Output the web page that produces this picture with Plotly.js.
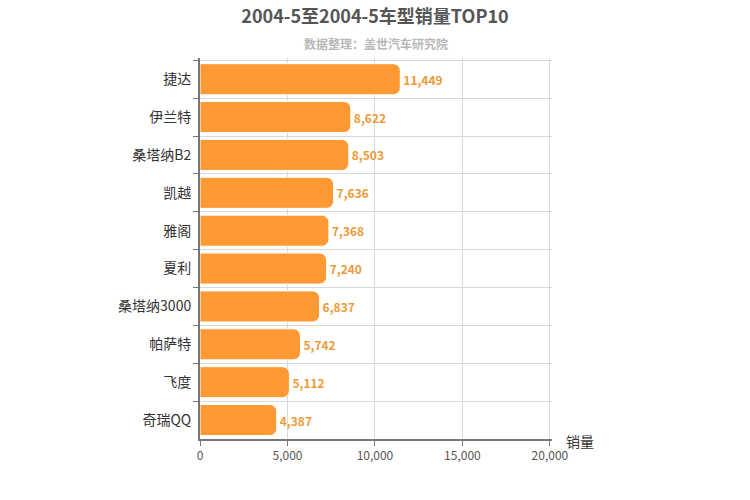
<!DOCTYPE html>
<html><head><meta charset="utf-8">
<script src="https://cdn.plot.ly/plotly-3.0.1.min.js"></script>
<style>html,body{margin:0;padding:0;background:#fff}#c{width:750px;height:500px}</style>
</head><body><div id="c"></div>
<script>
var categories = ["捷达","伊兰特","桑塔纳B2","凯越","雅阁","夏利","桑塔纳3000","帕萨特","飞度","奇瑞QQ"];
var sales = [11449,8622,8503,7636,7368,7240,6837,5742,5112,4387];
var xTicks = [0,5000,10000,15000,20000];
var xTickLabels = ["0","5,000","10,000","15,000","20,000"];
var F = '"Microsoft YaHei","Noto Sans CJK SC",sans-serif';
var trace = {
  type:'bar', orientation:'h', x:sales, y:categories,
  marker:{color:'#FF9933', line:{color:'#ffffff', width:1}, cornerradius:7},
  text:sales.map(function(v){return v.toLocaleString('en-US');}),
  textposition:'outside', cliponaxis:false,
  textfont:{family:F, size:12, color:'#EE9A3A', weight:'bold'},
  hoverinfo:'none'
};
var layout = {
  width:750, height:500,
  margin:{l:200, r:198, t:58, b:61},
  paper_bgcolor:'#fff', plot_bgcolor:'#fff',
  bargap:0.18,
  showlegend:false,
  font:{family:F},
  title:{text:'<b>2004-5至2004-5车型销量TOP10</b>', x:0.5, xanchor:'center', y:0.966, yanchor:'middle', font:{family:F, size:18, color:'#555555'}},
  xaxis:{range:[0,20120], tickvals:xTicks, ticktext:xTickLabels, showgrid:true, gridcolor:'#d8d8d8', gridwidth:1,
    showline:true, linecolor:'#777', linewidth:2, ticks:'outside', ticklen:5, tickcolor:'#777',
    tickfont:{family:F, size:12, color:'#555'}, zeroline:false, fixedrange:true},
  yaxis:{type:'category', categoryorder:'array', categoryarray:categories, range:[9.5,-0.56],
    showline:true, linecolor:'#777', linewidth:2, ticks:'outside', ticklen:5, tickcolor:'#777', tickson:'boundaries',
    showgrid:true, gridcolor:'#d8d8d8', tickfont:{family:F, size:14, color:'#333'}, ticklabelstandoff:4},
  annotations:[
    {text:'<b>数据整理：盖世汽车研究院</b>', xref:'paper', yref:'paper', x:0.5, y:1, yshift:15, xanchor:'center', yanchor:'middle', showarrow:false, font:{family:F, size:12, color:'#b8b8b8'}},
    {text:'销量', xref:'paper', yref:'paper', x:1, y:0, xshift:12, yshift:-2, xanchor:'left', yanchor:'middle', showarrow:false, font:{family:F, size:14, color:'#333'}}
  ]
};
Plotly.newPlot('c',[trace],layout,{staticPlot:true});
</script></body></html>
